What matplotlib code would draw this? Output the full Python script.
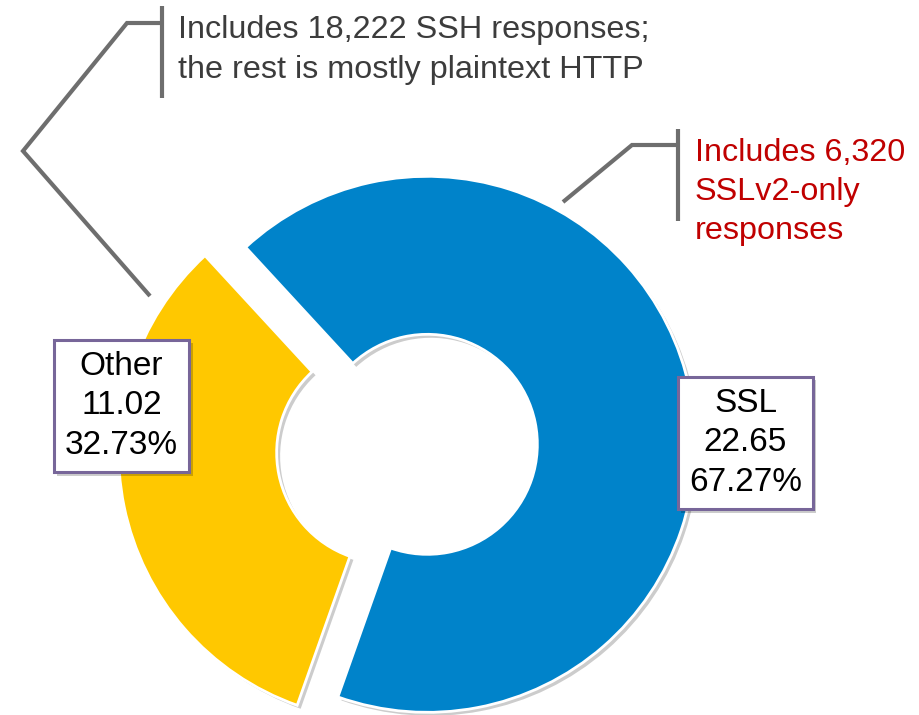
import matplotlib.pyplot as plt
import matplotlib.patheffects as pe

# data
categories = ['SSL', 'Other']
values = [22.65, 11.02]
colors = ['#0083CA', '#FFC800']
ssl_note = ['Includes 6,320', 'SSLv2-only', 'responses']
other_note = ['Includes 18,222 SSH responses;', 'the rest is mostly plaintext HTTP']

W, H = 920, 715
plt.rcParams['font.family'] = ['Liberation Sans', 'DejaVu Sans']


def py(y):
    # picture row (top = 0) -> data y
    return H - y


fig = plt.figure(figsize=(W / 100, H / 100), dpi=100)
ax = fig.add_axes([0, 0, 1, 1])

R = 268
shadow = [pe.SimplePatchShadow(offset=(2.5, -2.5), shadow_rgbFace='black', alpha=0.2),
          pe.Normal()]

wedges, _ = ax.pie(values, colors=colors, startangle=-109.5, counterclock=True,
                   radius=R, center=(407, py(448.5)),
                   explode=[0.0775 * R] * len(values),
                   wedgeprops=dict(width=158, edgecolor='white', linewidth=2))
for w in wedges:
    w.set_path_effects(shadow)

ax.set_xlim(0, W)
ax.set_ylim(0, H)
ax.set_aspect('equal')
ax.axis('off')

# value boxes
total = sum(values)
label_pos = {'SSL': (745.5, 443), 'Other': (121.5, 406)}
for name, v in zip(categories, values):
    x, y = label_pos[name]
    t = ax.text(x, py(y), f'{name}\n{v:.2f}\n{v / total * 100:.2f}%',
                ha='center', va='center', fontsize=24, linespacing=1.36,
                color='black',
                bbox=dict(boxstyle='square,pad=0.33', fc='white',
                          ec='#776699', lw=2.2))
    t.get_bbox_patch().set_path_effects(shadow)

# callouts
line_kw = dict(color='#6E6E6E', lw=3, solid_capstyle='butt',
               solid_joinstyle='miter')
ax.plot([150, 23, 127, 162], [py(296), py(151), py(23), py(23)], **line_kw)
ax.plot([162, 162], [py(6), py(98)], **line_kw)
ax.text(178, py(15), '\n'.join(other_note), ha='left', va='top',
        fontsize=23.3, linespacing=1.42, color='#3C3C3C')

ax.plot([563, 632, 678], [py(202), py(145), py(145)], **line_kw)
ax.plot([678, 678], [py(129), py(221)], **line_kw)
ax.text(695, py(138), '\n'.join(ssl_note), ha='left', va='top',
        fontsize=23.3, linespacing=1.4, color='#C00000')

fig.savefig('out.png', dpi=100)
